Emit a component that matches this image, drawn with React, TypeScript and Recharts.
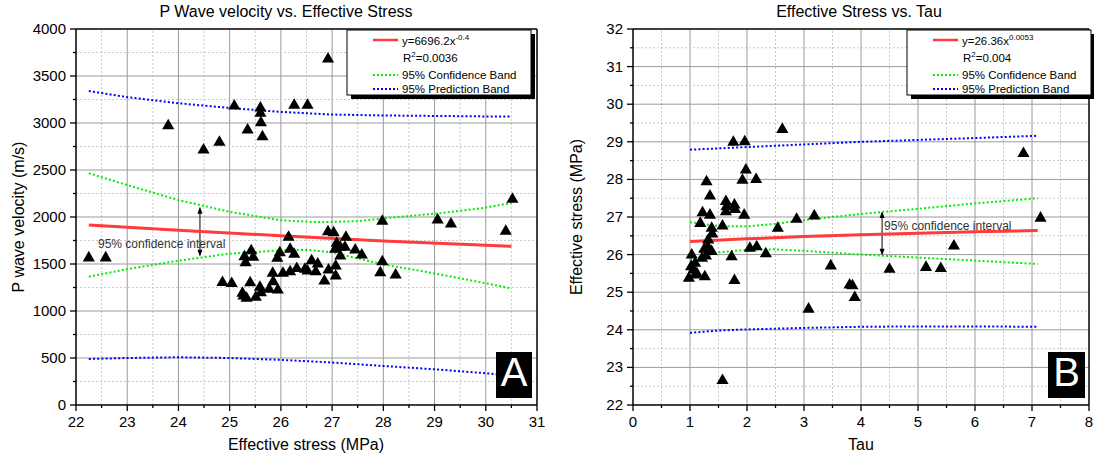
import React from "react";
import {
  ScatterChart,
  Scatter,
  XAxis,
  YAxis,
  ReferenceLine,
} from "recharts";

const FONT = '"Liberation Sans", Arial, sans-serif';

type Pt = [number, number];

// ---- Panel A: P wave velocity (m/s) vs effective stress (MPa)
const pointsA: Pt[] = [
  [22.25, 1565], [22.58, 1565], [23.8, 2970], [24.49, 2713], [24.8, 2795],
  [25.09, 3181], [25.35, 2926], [25.6, 3160], [25.6, 3103], [25.61, 3003],
  [25.64, 2854], [26.26, 3188], [26.52, 3188], [26.92, 3681],
  [24.86, 1302], [25.04, 1292], [25.29, 1578], [25.31, 1514], [25.42, 1641],
  [25.46, 1571], [25.4, 1301], [25.25, 1188], [25.27, 1160], [25.33, 1135],
  [25.59, 1252], [25.61, 1195], [25.51, 1146], [25.77, 1231], [25.84, 1401],
  [25.85, 1312], [25.94, 1223], [25.93, 1560], [25.98, 1620], [26.15, 1784],
  [26.18, 1656], [26.26, 1603], [26.04, 1401], [26.18, 1418], [26.31, 1452],
  [26.47, 1444], [26.52, 1426], [26.6, 1535], [26.68, 1418], [26.72, 1500],
  [26.85, 1319], [26.93, 1436], [26.92, 1844], [27.03, 1833], [27.07, 1479],
  [27.07, 1372], [27.09, 1720], [27.16, 1678], [27.06, 1656], [27.16, 1585],
  [27.27, 1784], [27.25, 1678], [27.45, 1649], [27.58, 1596], [27.98, 1955],
  [27.98, 1524], [27.94, 1407], [28.24, 1383], [29.06, 1968], [29.32, 1926],
  [30.39, 1848], [30.52, 2188],
];
const fitA: Pt[] = [[22.25, 1915], [24, 1860], [26, 1800], [28, 1745], [30.5, 1688]];
const confUpperA: Pt[] = [
  [22.25, 2465], [23, 2340], [24, 2180], [25, 2055], [26, 1965], [26.7, 1945],
  [27.5, 1955], [28, 1985], [29, 2035], [30, 2100], [30.5, 2150],
];
const confLowerA: Pt[] = [
  [22.25, 1365], [23, 1445], [24, 1535], [25, 1610], [26, 1645], [26.5, 1650],
  [27, 1625], [28, 1495], [29, 1400], [30, 1295], [30.5, 1240],
];
const predUpperA: Pt[] = [
  [22.25, 3340], [23, 3275], [24, 3210], [25, 3160], [26, 3118], [27, 3090],
  [28, 3080], [29, 3075], [30, 3070], [30.5, 3070],
];
const predLowerA: Pt[] = [
  [22.25, 490], [23, 500], [24, 508], [25, 500], [26, 480], [27, 452],
  [28, 415], [29, 380], [30, 338], [30.5, 308],
];
const xTicksA = [22, 22.5, 23, 23.5, 24, 24.5, 25, 25.5, 26, 26.5, 27, 27.5, 28, 28.5, 29, 29.5, 30, 30.5, 31];
const yTicksA = [0, 250, 500, 750, 1000, 1250, 1500, 1750, 2000, 2250, 2500, 2750, 3000, 3250, 3500, 3750, 4000];

// ---- Panel B: effective stress (MPa) vs tau
const pointsB: Pt[] = [
  [2.62, 29.33], [1.76, 28.99], [1.96, 29.0], [1.98, 28.25], [1.92, 27.98],
  [2.16, 28.0], [1.29, 27.94], [1.35, 27.56], [1.63, 27.41], [1.64, 27.27],
  [1.78, 27.32], [1.79, 27.2], [1.63, 27.14], [1.95, 27.05], [1.22, 27.11],
  [1.35, 27.05], [1.18, 26.83], [1.38, 26.7], [1.57, 26.76], [1.39, 26.55],
  [1.32, 26.39], [1.31, 26.21], [1.25, 26.14], [1.38, 26.08], [1.28, 25.96],
  [1.21, 25.9], [1.03, 25.99], [1.09, 25.77], [1.06, 25.59], [1.12, 25.5],
  [0.98, 25.37], [1.26, 25.41], [1.02, 25.68], [1.09, 25.46], [1.73, 25.94],
  [1.78, 25.31], [2.05, 26.17], [2.17, 26.21], [2.33, 26.02], [2.54, 26.7],
  [2.87, 26.94], [3.18, 27.03], [3.47, 25.7], [3.8, 25.19], [3.85, 25.17],
  [3.89, 24.86], [3.08, 24.55], [1.57, 22.65], [4.5, 25.61], [5.14, 25.66],
  [5.4, 25.63], [5.63, 26.23], [6.85, 28.69], [7.15, 26.97],
];
const fitB: Pt[] = [[1, 26.35], [2, 26.42], [3, 26.48], [4, 26.53], [5, 26.57], [6, 26.61], [7.1, 26.64]];
const confUpperB: Pt[] = [
  [1, 26.86], [1.5, 26.76], [2, 26.75], [2.5, 26.82], [3, 26.92], [4, 27.08],
  [5, 27.22], [6, 27.36], [7.1, 27.5],
];
const confLowerB: Pt[] = [
  [1, 25.86], [1.5, 26.06], [2, 26.13], [2.5, 26.14], [3, 26.1], [4, 26.0],
  [5, 25.92], [6, 25.84], [7.1, 25.75],
];
const predUpperB: Pt[] = [[1, 28.79], [2, 28.86], [3, 28.93], [4, 29.0], [5, 29.05], [6, 29.1], [7.1, 29.16]];
const predLowerB: Pt[] = [
  [1, 23.92], [1.5, 23.98], [2, 24.01], [3, 24.05], [4, 24.08], [5, 24.09], [6, 24.09], [7.1, 24.08],
];
const xTicksB = [0, 0.5, 1, 1.5, 2, 2.5, 3, 3.5, 4, 4.5, 5, 5.5, 6, 6.5, 7, 7.5, 8];
const yTicksB = [22, 22.5, 23, 23.5, 24, 24.5, 25, 25.5, 26, 26.5, 27, 27.5, 28, 28.5, 29, 29.5, 30, 30.5, 31, 31.5, 32];

const RED = "#ff3b3b";
const GREEN = "#00ee00";
const BLUE = "#0000ff";

const toXY = (pts: Pt[]) => pts.map(([x, y]) => ({ x, y }));

const bottomTick = (isMajor: (v: number) => boolean) => (props: any) => {
  const { x, y, payload } = props;
  const major = isMajor(payload.value);
  return (
    <g>
      <line x1={x} x2={x} y1={y} y2={y + (major ? 6 : 3)} stroke="#000" strokeWidth={1.3} />
      {major && (
        <text x={x} y={y + 22} textAnchor="middle" fontSize={15} fontFamily={FONT} fill="#000">
          {payload.value}
        </text>
      )}
    </g>
  );
};

const leftTick = (isMajor: (v: number) => boolean) => (props: any) => {
  const { x, y, payload } = props;
  const major = isMajor(payload.value);
  return (
    <g>
      <line x1={x} x2={x - (major ? 6 : 3)} y1={y} y2={y} stroke="#000" strokeWidth={1.3} />
      {major && (
        <text x={x - 10} y={y + 5} textAnchor="end" fontSize={15} fontFamily={FONT} fill="#000">
          {payload.value}
        </text>
      )}
    </g>
  );
};

const topTick = (isMajor: (v: number) => boolean) => (props: any) => {
  const { x, y, payload } = props;
  return <line x1={x} x2={x} y1={y} y2={y + (isMajor(payload.value) ? 6 : 3)} stroke="#000" strokeWidth={1.3} />;
};

const rightTick = (isMajor: (v: number) => boolean) => (props: any) => {
  const { x, y, payload } = props;
  return <line x1={x} x2={x - (isMajor(payload.value) ? 6 : 3)} y1={y} y2={y} stroke="#000" strokeWidth={1.3} />;
};

const arrowShape = (textDx: number, textDy: number) => (props: any) => {
  const { x1, y1, x2, y2 } = props;
  const top = Math.min(y1, y2);
  const bot = Math.max(y1, y2);
  return (
    <g>
      <line x1={x1} x2={x2} y1={top + 2} y2={bot - 2} stroke="#000" strokeWidth={1} />
      <path d={`M${x1},${top} L${x1 - 2.5},${top + 7} L${x1 + 2.5},${top + 7} Z`} fill="#000" />
      <path d={`M${x1},${bot} L${x1 - 2.5},${bot - 7} L${x1 + 2.5},${bot - 7} Z`} fill="#000" />
      <text x={x1 + textDx} y={top + textDy} fontSize={12} fontFamily={FONT} fill="#333">
        95% confidence interval
      </text>
    </g>
  );
};

const noDot = () => <g />;

interface PanelProps {
  width: number;
  left: number;
  yAxisWidth: number;
  rightMargin: number;
  xDomain: [number, number];
  yDomain: [number, number];
  xTicks: number[];
  yTicks: number[];
  xMajor: (v: number) => boolean;
  yMajor: (v: number) => boolean;
  points: Pt[];
  fit: Pt[];
  confUpper: Pt[];
  confLower: Pt[];
  predUpper: Pt[];
  predLower: Pt[];
  arrow: { x: number; y1: number; y2: number; dx: number; dy: number };
}

function Panel(p: PanelProps) {
  const dotted = { strokeWidth: 2, strokeDasharray: "2 2.2" };
  const gridStyle = (major: boolean) =>
    major
      ? { stroke: "#9a9a9a", strokeWidth: 1 }
      : { stroke: "#c8c8c8", strokeWidth: 1, strokeDasharray: "2 2" };
  const innerX = p.xTicks.filter((v) => v > p.xDomain[0] && v < p.xDomain[1]);
  const innerY = p.yTicks.filter((v) => v > p.yDomain[0] && v < p.yDomain[1]);
  return (
    <div style={{ position: "absolute", left: p.left, top: 0 }}>
      <ScatterChart
        width={p.width}
        height={465}
        margin={{ top: 28, right: p.rightMargin, bottom: 30, left: 0 }}
      >
        <XAxis
          xAxisId="main"
          type="number"
          dataKey="x"
          domain={p.xDomain}
          ticks={p.xTicks}
          interval={0}
          allowDataOverflow
          height={30}
          tickSize={0}
          tickMargin={0}
          tickLine={false}
          axisLine={{ stroke: "#000", strokeWidth: 1.5 }}
          tick={bottomTick(p.xMajor)}
        />
        <XAxis
          xAxisId="top"
          orientation="top"
          type="number"
          dataKey="x"
          domain={p.xDomain}
          ticks={p.xTicks}
          interval={0}
          height={1}
          tickSize={0}
          tickMargin={0}
          tickLine={false}
          axisLine={{ stroke: "#000", strokeWidth: 1.5 }}
          tick={topTick(p.xMajor)}
        />
        <YAxis
          yAxisId="main"
          type="number"
          dataKey="y"
          domain={p.yDomain}
          ticks={p.yTicks}
          interval={0}
          allowDataOverflow
          width={p.yAxisWidth}
          tickSize={0}
          tickMargin={0}
          tickLine={false}
          axisLine={{ stroke: "#000", strokeWidth: 1.5 }}
          tick={leftTick(p.yMajor)}
        />
        <YAxis
          yAxisId="right"
          orientation="right"
          type="number"
          dataKey="y"
          domain={p.yDomain}
          ticks={p.yTicks}
          interval={0}
          width={1}
          tickSize={0}
          tickMargin={0}
          tickLine={false}
          axisLine={{ stroke: "#000", strokeWidth: 1.5 }}
          tick={rightTick(p.yMajor)}
        />

        {innerX.map((v) => (
          <ReferenceLine key={`gx${v}`} xAxisId="main" yAxisId="main" x={v} {...gridStyle(p.xMajor(v))} />
        ))}
        {innerY.map((v) => (
          <ReferenceLine key={`gy${v}`} xAxisId="main" yAxisId="main" y={v} {...gridStyle(p.yMajor(v))} />
        ))}

        <Scatter xAxisId="main" yAxisId="main" data={toXY(p.predUpper)} fill={BLUE} line={{ stroke: BLUE, ...dotted }} shape={noDot} isAnimationActive={false} />
        <Scatter xAxisId="main" yAxisId="main" data={toXY(p.predLower)} fill={BLUE} line={{ stroke: BLUE, ...dotted }} shape={noDot} isAnimationActive={false} />
        <Scatter xAxisId="main" yAxisId="main" data={toXY(p.confUpper)} fill={GREEN} line={{ stroke: GREEN, ...dotted }} shape={noDot} isAnimationActive={false} />
        <Scatter xAxisId="main" yAxisId="main" data={toXY(p.confLower)} fill={GREEN} line={{ stroke: GREEN, ...dotted }} shape={noDot} isAnimationActive={false} />
        <Scatter xAxisId="main" yAxisId="main" data={toXY(p.fit)} fill={RED} line={{ stroke: RED, strokeWidth: 3 }} shape={noDot} isAnimationActive={false} />
        <Scatter xAxisId="main" yAxisId="main" data={toXY(p.points)} fill="#000" shape="triangle" isAnimationActive={false} />

        <ReferenceLine
          xAxisId="main"
          yAxisId="main"
          segment={[
            { x: p.arrow.x, y: p.arrow.y1 },
            { x: p.arrow.x, y: p.arrow.y2 },
          ]}
          shape={arrowShape(p.arrow.dx, p.arrow.dy)}
        />
      </ScatterChart>
    </div>
  );
}

function Legend({ x, eq, sup, r2 }: { x: number; eq: string; sup: string; r2: string }) {
  const lx = x + 26;
  const tx = x + 55;
  return (
    <g fontFamily={FONT} fontSize={11.5} fill="#000">
      <rect x={x + 4} y={34} width={184} height={65} fill="#000" />
      <rect x={x} y={30} width={184} height={65} fill="#fff" stroke="#000" strokeWidth={1} />
      <line x1={lx} x2={lx + 25} y1={40} y2={40} stroke={RED} strokeWidth={2.5} />
      <text x={tx} y={45}>
        {eq}
        <tspan dy={-5} fontSize={8}>{sup}</tspan>
      </text>
      <text x={tx + 1} y={62}>
        R<tspan dy={-5} fontSize={8}>2</tspan>
        <tspan dy={5}>{r2}</tspan>
      </text>
      <line x1={lx} x2={lx + 25} y1={75} y2={75} stroke={GREEN} strokeWidth={2} strokeDasharray="2 2" />
      <text x={tx} y={79}>95% Confidence Band</text>
      <line x1={lx} x2={lx + 25} y1={89} y2={89} stroke={BLUE} strokeWidth={2} strokeDasharray="2 2" />
      <text x={tx} y={93}>95% Prediction Band</text>
    </g>
  );
}

export default function App() {
  return (
    <div style={{ position: "absolute", left: 0, top: 0, width: 1094, height: 465, background: "#fff", overflow: "hidden" }}>
      <Panel
        width={560}
        left={0}
        yAxisWidth={76}
        rightMargin={22}
        xDomain={[22, 31]}
        yDomain={[0, 4000]}
        xTicks={xTicksA}
        yTicks={yTicksA}
        xMajor={(v) => Number.isInteger(v)}
        yMajor={(v) => v % 500 === 0}
        points={pointsA}
        fit={fitA}
        confUpper={confUpperA}
        confLower={confLowerA}
        predUpper={predUpperA}
        predLower={predLowerA}
        arrow={{ x: 24.42, y1: 2110, y2: 1578, dx: -102, dy: 41 }}
      />
      <Panel
        width={534}
        left={560}
        yAxisWidth={73}
        rightMargin={4}
        xDomain={[0, 8]}
        yDomain={[22, 32]}
        xTicks={xTicksB}
        yTicks={yTicksB}
        xMajor={(v) => Number.isInteger(v)}
        yMajor={(v) => Number.isInteger(v)}
        points={pointsB}
        fit={fitB}
        confUpper={confUpperB}
        confLower={confLowerB}
        predUpper={predUpperB}
        predLower={predLowerB}
        arrow={{ x: 4.37, y1: 27.16, y2: 25.97, dx: 2, dy: 19 }}
      />
      <svg
        width={1094}
        height={465}
        style={{ position: "absolute", left: 0, top: 0, pointerEvents: "none" }}
      >
        <g fontFamily={FONT} fill="#000" fontSize={16}>
          <text x={286} y={17} textAnchor="middle">P Wave velocity vs. Effective Stress</text>
          <text x={859} y={17} textAnchor="middle">Effective Stress vs. Tau</text>
          <text x={306} y={450} textAnchor="middle">Effective stress (MPa)</text>
          <text x={861} y={450} textAnchor="middle">Tau</text>
          <text x={24} y={217} textAnchor="middle" transform="rotate(-90 24 217)">P wave velocity (m/s)</text>
          <text x={582} y={217} textAnchor="middle" transform="rotate(-90 582 217)">Effective stress (MPa)</text>
        </g>
        <Legend x={347} eq="y=6696.2x" sup="-0.4" r2="=0.0036" />
        <Legend x={907} eq="y=26.36x" sup="0.0053" r2="=0.004" />
        <rect x={496} y={352} width={36} height={46} fill="#000" />
        <text x={514} y={386} textAnchor="middle" fontFamily={FONT} fontSize={40} fill="#fff">A</text>
        <rect x={1048} y={352} width={37} height={46} fill="#000" />
        <text x={1066.5} y={386} textAnchor="middle" fontFamily={FONT} fontSize={40} fill="#fff">B</text>
      </svg>
    </div>
  );
}
